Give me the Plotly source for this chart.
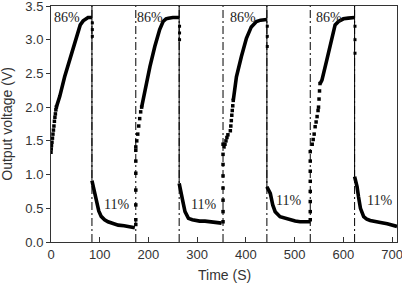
import plotly.graph_objects as go

# ---- switching times (s) ----
switch_down = [84, 263, 443, 623]          # 86% -> 11%
switch_up = [174, 353, 532]                # 11% -> 86%
down_start_v = [0.91, 0.87, 0.82, 0.97]    # first reading after switching down

# ---- 86% RH phases: sparse (fast) readings ----
hum_dot_t = [
    [0, 0.5, 1, 2, 3, 4, 5, 6, 7, 8, 9, 10, 11],
    [174, 176, 178, 180, 182, 184, 186],
    [355, 357, 359, 361, 363, 368, 369, 370, 371, 372, 373, 374],
    [536, 538, 540, 542, 544, 546, 548, 549, 550, 551, 552],
]
hum_dot_v = [
    [1.33, 1.38, 1.43, 1.48, 1.54, 1.60, 1.66, 1.72, 1.79, 1.85, 1.90, 1.96, 2.00],
    [1.41, 1.50, 1.60, 1.72, 1.83, 1.93, 2.00],
    [1.41, 1.45, 1.50, 1.55, 1.59, 1.65, 1.72, 1.80, 1.88, 1.95, 2.02, 2.10],
    [1.45, 1.52, 1.60, 1.71, 1.78, 1.86, 1.95, 2.00, 2.12, 2.24, 2.35],
]
# ---- 86% RH phases: dense readings ----
hum_t = [
    [11, 18, 28, 38, 48, 55, 60, 66, 72, 76, 80, 84],
    [186, 193, 203, 213, 223, 230, 236, 241, 250, 263],
    [374, 380.5, 390.7, 401, 411, 421.6, 430, 443],
    [552.5, 556, 566, 576.6, 583, 590, 594, 600, 610, 618, 623],
]
hum_v = [
    [2.00, 2.16, 2.45, 2.70, 2.95, 3.12, 3.22, 3.28, 3.31, 3.33, 3.33, 3.33],
    [2.00, 2.26, 2.60, 2.90, 3.15, 3.27, 3.31, 3.32, 3.33, 3.33],
    [2.10, 2.45, 2.75, 3.02, 3.19, 3.27, 3.29, 3.30],
    [2.35, 2.40, 2.70, 3.05, 3.22, 3.27, 3.29, 3.31, 3.32, 3.33, 3.33],
]
# readings scattered right at the switch-off
dip_v = [
    [3.25, 3.15, 3.05],
    [3.20, 3.10, 3.00],
    [3.20, 3.05, 2.90],
    [3.20, 3.00, 2.80],
]

# ---- 11% RH phases ----
dry_t = [
    [84, 87, 90, 94, 98, 103, 110, 117, 128, 138, 150, 160, 168, 172],
    [263, 268, 271.5, 275, 282, 290, 296, 305, 316, 326, 337, 345, 350],
    [443, 446, 450, 455, 460, 470, 480, 491, 501, 511, 520, 529, 532],
    [623, 626, 628, 631, 635, 641.6, 648, 655, 665, 676, 690, 703, 710],
]
dry_v = [
    [0.91, 0.82, 0.72, 0.58, 0.46, 0.38, 0.33, 0.30, 0.27, 0.25, 0.24, 0.23, 0.22, 0.21],
    [0.87, 0.72, 0.57, 0.45, 0.35, 0.33, 0.32, 0.31, 0.31, 0.30, 0.30, 0.29, 0.28],
    [0.82, 0.78, 0.72, 0.55, 0.45, 0.375, 0.35, 0.33, 0.31, 0.30, 0.30, 0.30, 0.30],
    [0.97, 0.90, 0.82, 0.67, 0.50, 0.375, 0.34, 0.32, 0.30, 0.29, 0.27, 0.25, 0.23],
]
# readings during fast rise at switch-on
rise_v = [
    [0.26, 0.33, 0.55, 0.77, 1.02, 1.20, 1.36],
    [0.30, 0.45, 0.62, 0.80, 0.98, 1.15, 1.30, 1.45],
    [0.33, 0.45, 0.60, 0.75, 0.90, 1.05, 1.20, 1.34],
]

label_hi_t = [32, 203, 393, 571]
label_lo_t = [134, 312, 487, 675]
label_lo_v = [0.55, 0.55, 0.61, 0.61]
hi_text = "86%"
lo_text = "11%"

x_ticks = [0, 100, 200, 300, 400, 500, 600, 700]
y_ticks = [0.0, 0.5, 1.0, 1.5, 2.0, 2.5, 3.0, 3.5]

fig = go.Figure()

line_style = dict(color="black", width=3.6)
dot_style = dict(color="black", size=3.5, symbol="square", line=dict(width=0))

for i in range(4):
    fig.add_trace(go.Scatter(x=hum_dot_t[i], y=hum_dot_v[i], mode="markers",
                             marker=dot_style, showlegend=False))
    fig.add_trace(go.Scatter(x=hum_t[i], y=hum_v[i], mode="lines",
                             line=line_style, showlegend=False))
    fig.add_trace(go.Scatter(x=[switch_down[i] + 0.8] * len(dip_v[i]), y=dip_v[i],
                             mode="markers", marker=dict(color="black", size=3, symbol="square"),
                             showlegend=False))
    fig.add_trace(go.Scatter(x=dry_t[i], y=dry_v[i], mode="lines",
                             line=line_style, showlegend=False))
for i in range(3):
    fig.add_trace(go.Scatter(x=[switch_up[i]] * len(rise_v[i]), y=rise_v[i],
                             mode="markers", marker=dot_style, showlegend=False))

# switching markers
for t in switch_down + switch_up:
    fig.add_shape(type="line", x0=t, x1=t, y0=0, y1=3.5, xref="x", yref="y",
                  line=dict(color="black", width=1, dash="8px,3px,2px,3px"), layer="below")
for t, v in zip(switch_down, down_start_v):
    fig.add_shape(type="line", x0=t, x1=t, y0=v, y1=3.5, xref="x", yref="y",
                  line=dict(color="black", width=1))

for t in label_hi_t:
    fig.add_annotation(x=t, y=3.33, text=hi_text, showarrow=False, yanchor="middle",
                       font=dict(family="Liberation Serif", size=14, color="#222"))
for t, v in zip(label_lo_t, label_lo_v):
    fig.add_annotation(x=t, y=v, text=lo_text, showarrow=False,
                       font=dict(family="Liberation Serif", size=14, color="#222"))

axis_font = dict(family="Liberation Sans", size=13, color="#333")
title_font = dict(family="Liberation Sans", size=14, color="#333")
fig.add_annotation(text="Time (S)", xref="paper", yref="paper", x=0.5, y=-0.14,
                   xanchor="center", yanchor="middle", showarrow=False, font=title_font)
fig.add_annotation(text="Output voltage (V)", xref="paper", yref="paper", x=-0.128, y=0.5,
                   xanchor="center", yanchor="middle", textangle=-90, showarrow=False,
                   font=title_font)

fig.update_layout(
    width=402, height=284,
    margin=dict(l=51, r=5, t=6, b=42, autoexpand=False),
    paper_bgcolor="white", plot_bgcolor="white",
    font=axis_font,
    xaxis=dict(range=[0, 710], tickvals=x_ticks, ticks="inside", ticklen=5, tickcolor="#333",
               showline=True, linecolor="#333", linewidth=1, mirror=True, showgrid=False,
               zeroline=False, tickfont=axis_font, automargin=False, ticklabeloverflow="allow"),
    yaxis=dict(range=[0, 3.5], tickvals=y_ticks, tickformat=".1f", ticks="outside", ticklen=4,
               tickcolor="#333", showline=True, linecolor="#333", linewidth=1, mirror=True,
               showgrid=False, zeroline=False, tickfont=axis_font, automargin=False,
               ticklabeloverflow="allow"),
)

fig.write_html("out.html", post_script="document.body.style.margin='0';",
               config={"displayModeBar": False})
